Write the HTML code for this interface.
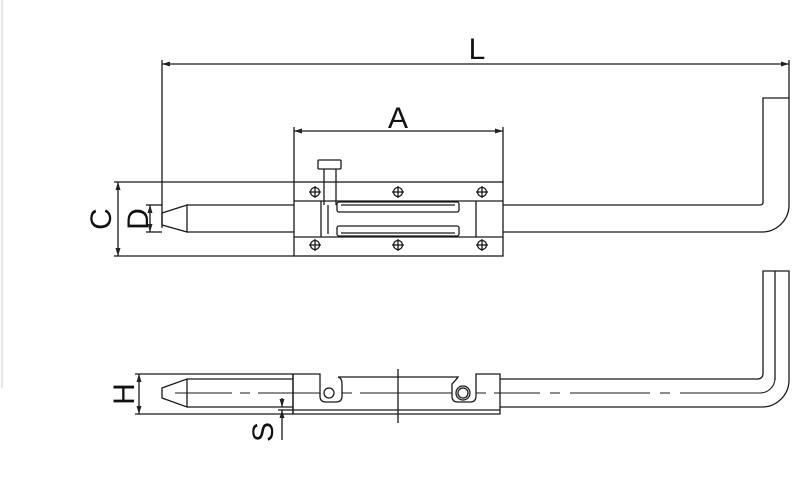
<!DOCTYPE html>
<html><head><meta charset="utf-8"><style>
html,body{margin:0;padding:0;background:#fff;}
svg{display:block;}
text{font-family:"Liberation Sans",Arial,sans-serif;fill:#111;}
</style></head><body>
<svg width="801" height="490" viewBox="0 0 801 490" xmlns="http://www.w3.org/2000/svg">
<defs>
<marker id="ar" markerWidth="8" markerHeight="6" refX="8" refY="3" orient="auto-start-reverse" markerUnits="userSpaceOnUse"><path d="M0,0.5 L8,3 L0,5.5 z" fill="#222"/></marker>
</defs>
<line x1="2" y1="0" x2="2" y2="388" stroke="#ccc" stroke-width="1"/>
<g stroke="#1a1a1a" stroke-width="1.3" fill="none">
<line x1="162" y1="64" x2="789" y2="64" marker-start="url(#ar)" marker-end="url(#ar)"/>
<line x1="162" y1="60" x2="162" y2="228"/>
<line x1="789" y1="60" x2="789" y2="98"/>
<line x1="294" y1="131" x2="503" y2="131" marker-start="url(#ar)" marker-end="url(#ar)"/>
<line x1="294" y1="127" x2="294" y2="182"/>
<line x1="503" y1="127" x2="503" y2="182"/>
<line x1="118" y1="182" x2="118" y2="256" marker-start="url(#ar)" marker-end="url(#ar)"/>
<line x1="114" y1="182" x2="294" y2="182"/>
<line x1="114" y1="256" x2="294" y2="256"/>
<line x1="150" y1="205" x2="150" y2="232" marker-start="url(#ar)" marker-end="url(#ar)"/>
<line x1="146" y1="205" x2="162" y2="205"/>
<line x1="146" y1="232" x2="162" y2="232"/>
<path d="M162,213 L187,205 L187,232 L162,225 Z"/>
<line x1="187" y1="205" x2="294" y2="205"/>
<line x1="187" y1="232" x2="294" y2="232"/>
<path d="M503,205 L760,205 Q763,205 763,202 L763,98 L789,98 L789,205 A27,27 0 0 1 762,232 L503,232"/>
<rect x="294" y="182" width="209" height="74"/>
<line x1="294" y1="201" x2="503" y2="201"/>
<line x1="294" y1="237" x2="503" y2="237"/>
<line x1="321" y1="201" x2="321" y2="237"/>
<line x1="476" y1="201" x2="476" y2="237"/>
<line x1="328" y1="205" x2="328" y2="234"/>
<rect x="337" y="202" width="122" height="10" rx="2"/>
<rect x="337" y="226" width="122" height="10" rx="2"/>
<line x1="341" y1="205" x2="455" y2="205"/>
<line x1="341" y1="233" x2="455" y2="233"/>
<rect x="318" y="160" width="23" height="9" rx="1"/>
<line x1="324" y1="169" x2="324" y2="205"/>
<line x1="336" y1="169" x2="336" y2="205"/>
<g>
<circle cx="315" cy="192" r="4.5"/><line x1="309" y1="192" x2="321" y2="192"/><line x1="315" y1="186" x2="315" y2="198"/>
<circle cx="398" cy="192" r="4.5"/><line x1="392" y1="192" x2="404" y2="192"/><line x1="398" y1="186" x2="398" y2="198"/>
<circle cx="482" cy="192" r="4.5"/><line x1="476" y1="192" x2="488" y2="192"/><line x1="482" y1="186" x2="482" y2="198"/>
<circle cx="315" cy="245" r="4.5"/><line x1="309" y1="245" x2="321" y2="245"/><line x1="315" y1="239" x2="315" y2="251"/>
<circle cx="398" cy="245" r="4.5"/><line x1="392" y1="245" x2="404" y2="245"/><line x1="398" y1="239" x2="398" y2="251"/>
<circle cx="482" cy="245" r="4.5"/><line x1="476" y1="245" x2="488" y2="245"/><line x1="482" y1="239" x2="482" y2="251"/>
</g>
<line x1="139" y1="374" x2="139" y2="414" marker-start="url(#ar)" marker-end="url(#ar)"/>
<line x1="135" y1="374" x2="293" y2="374"/>
<line x1="135" y1="414" x2="293" y2="414"/>
<path d="M162,388 L187,379 L187,407 L162,398 Z"/>
<line x1="187" y1="379" x2="293" y2="379"/>
<line x1="187" y1="407" x2="293" y2="407"/>
<line x1="282" y1="398" x2="282" y2="407" marker-end="url(#ar)"/>
<line x1="282" y1="410" x2="282" y2="440" marker-start="url(#ar)"/>
<line x1="278" y1="410" x2="293" y2="410"/>
<path d="M293,374 L320,374 L320,396 Q320,402 326,402 L336,402 Q342,402 342,396 L342,384 Q342,378 338,377 L458,377 Q456,380 452,384 L452,396 Q452,402 458,402 L470,402 Q476,402 476,396 L476,374 L500,374 L500,414 L293,414 Z"/>
<line x1="293" y1="410" x2="500" y2="410"/>
<line x1="293" y1="374" x2="293" y2="414"/>
<circle cx="329" cy="393" r="5"/>
<circle cx="463" cy="393" r="7"/>
<circle cx="463" cy="393" r="5"/>
<line x1="398" y1="369" x2="398" y2="423"/>
<path d="M500,379 L757,379 Q763,379 763,373 L763,271 L789,271 L789,380 A27,27 0 0 1 762,407 L500,407"/>
<line x1="775" y1="271" x2="775" y2="380"/>
<path d="M175,393 L232,393 M240,393 L250,393 M258,393 L320,393 M342,393 L352,393 M360,393 L452,393 M476,393 L486,393 M494,393 L540,393 M550,393 L560,393 M570,393 L650,393 M660,393 L670,393 M680,393 L760,393 A15,15 0 0 0 775,378" stroke-width="1.1"/>
</g>
<text x="477" y="59" font-size="30" text-anchor="middle">L</text>
<text x="398" y="128" font-size="30" text-anchor="middle">A</text>
<text transform="translate(111,219) rotate(-90)" font-size="30" text-anchor="middle">C</text>
<text transform="translate(148,219) rotate(-90)" font-size="30" text-anchor="middle">D</text>
<text transform="translate(134,394) rotate(-90)" font-size="30" text-anchor="middle">H</text>
<text transform="translate(273,432) rotate(-90)" font-size="30" text-anchor="middle">S</text>
</svg>
</body></html>
